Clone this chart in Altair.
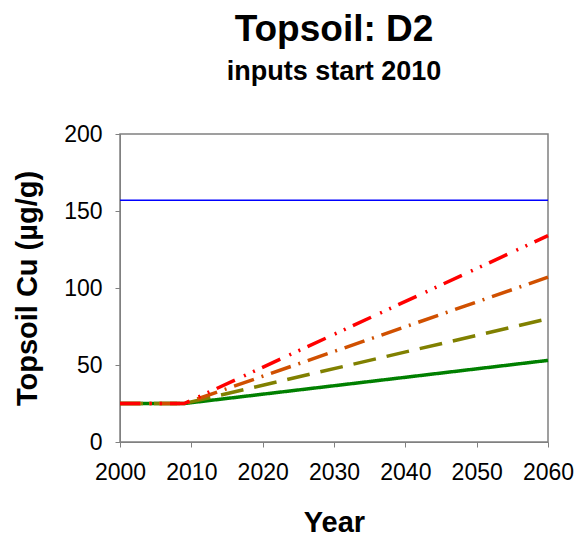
import altair as alt
import pandas as pd

years = [2000, 2009, 2060]
limit_years = [2000, 2060]
limit_values = [157, 157]
series_names = ["Low", "Medium", "High", "Very high"]
low_values = [25, 25, 53]
medium_values = [25, 25, 80]
high_values = [25, 25, 107]
veryhigh_values = [25, 25, 134]

colors = ["#008000", "#808000", "#D05000", "#FF0000"]
dashes = [[1, 0], [23, 11], [21, 8, 2, 8], [20, 10, 2, 8, 2, 8]]
all_values = [low_values, medium_values, high_values, veryhigh_values]

xscale = alt.Scale(domain=[2000, 2060], nice=False)
yscale = alt.Scale(domain=[0, 200], nice=False)

xenc = alt.X("year:Q", scale=xscale,
             axis=alt.Axis(title="Year", values=[2000, 2010, 2020, 2030, 2040, 2050, 2060], format="d"))
yenc = alt.Y("value:Q", scale=yscale,
             axis=alt.Axis(title="Topsoil Cu (µg/g)", values=[0, 50, 100, 150, 200]))

limit_df = pd.DataFrame({"year": limit_years, "value": limit_values})
layers = [alt.Chart(limit_df).mark_line(color="#0000FF", strokeWidth=1.5).encode(x=xenc, y=yenc)]
for name, vals, c, d in zip(series_names, all_values, colors, dashes):
    df = pd.DataFrame({"year": years, "value": vals, "series": name})
    layers.append(
        alt.Chart(df).mark_line(color=c, strokeWidth=3.5, strokeDash=d, strokeCap="butt").encode(x=xenc, y=yenc)
    )

chart = alt.layer(*layers).properties(
    width=428, height=308,
    autosize=alt.AutoSizeParams(type="none"),
    padding={"left": 120, "top": 134, "right": 37, "bottom": 98},
    title=alt.TitleParams(
        text="Topsoil: D2", subtitle="inputs start 2010",
        font="Liberation Sans", fontSize=37, fontWeight="bold", color="black",
        subtitleFont="Liberation Sans", subtitleFontSize=27, subtitleFontWeight="bold",
        subtitleColor="black", subtitlePadding=10, anchor="middle", offset=37,
    ),
).configure_view(stroke="#808080", strokeWidth=1.5).configure_axis(
    grid=False, domainColor="#808080", tickColor="#808080", tickSize=5,
    labelFont="Liberation Sans", labelFontSize=23, labelColor="black",
    titleFont="Liberation Sans", titleFontSize=29, titleFontWeight="bold", titleColor="black",
    labelFlush=False,
).configure_axisX(labelPadding=14, titlePadding=24).configure_axisY(labelPadding=13, titlePadding=21)

chart.save("out.html", embed_options={"renderer": "svg", "actions": False})
